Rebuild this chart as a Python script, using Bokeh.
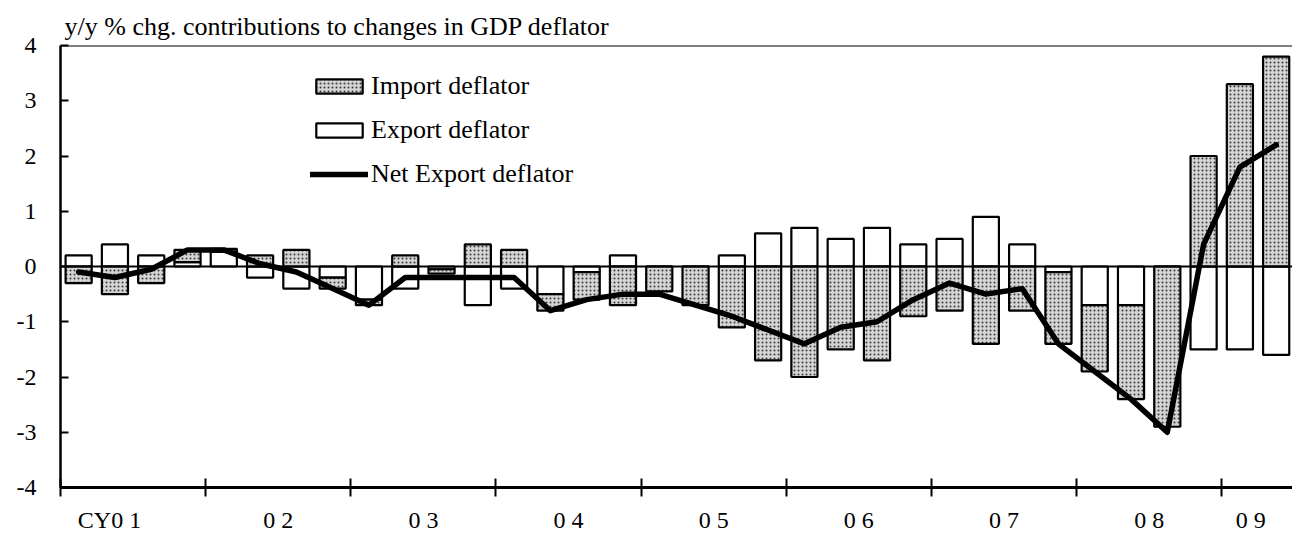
import numpy as np
from bokeh.plotting import figure
from bokeh.models import Range1d, FixedTicker, Span, Legend, LegendItem, ColumnDataSource
from bokeh.embed import file_html
from bokeh.resources import INLINE

# ---- data ----
quarters = ["01Q1", "01Q2", "01Q3", "01Q4", "02Q1", "02Q2", "02Q3", "02Q4",
            "03Q1", "03Q2", "03Q3", "03Q4", "04Q1", "04Q2", "04Q3", "04Q4",
            "05Q1", "05Q2", "05Q3", "05Q4", "06Q1", "06Q2", "06Q3", "06Q4",
            "07Q1", "07Q2", "07Q3", "07Q4", "08Q1", "08Q2", "08Q3", "08Q4",
            "09Q1", "09Q2"]
export_deflator = [0.2, 0.4, 0.2, 0.08, 0.27, -0.2, -0.4, -0.2,
                   -0.6, -0.4, -0.05, -0.7, -0.4, -0.5, -0.1, 0.2,
                   0.0, 0.0, 0.2, 0.6, 0.7, 0.5, 0.7, 0.4,
                   0.5, 0.9, 0.4, -0.1, -0.7, -0.7, 0.0, -1.5,
                   -1.5, -1.6]
import_deflator = [-0.3, -0.5, -0.3, 0.22, 0.05, 0.2, 0.3, -0.2,
                   -0.1, 0.2, -0.08, 0.4, 0.3, -0.3, -0.5, -0.7,
                   -0.45, -0.7, -1.1, -1.7, -2.0, -1.5, -1.7, -0.9,
                   -0.8, -1.4, -0.8, -1.3, -1.2, -1.7, -2.9, 2.0,
                   3.3, 3.8]
net_export_deflator = [-0.1, -0.2, -0.05, 0.3, 0.3, 0.05, -0.1, -0.4,
                       -0.7, -0.2, -0.2, -0.2, -0.2, -0.8, -0.6, -0.5,
                       -0.5, -0.7, -0.9, -1.15, -1.4, -1.1, -1.0, -0.6,
                       -0.3, -0.5, -0.4, -1.4, -1.9, -2.4, -3.0, 0.4,
                       1.8, 2.2]
year_labels = ["CY0 1", "0 2", "0 3", "0 4", "0 5", "0 6", "0 7", "0 8", "0 9"]
y_ticks = [-4, -3, -2, -1, 0, 1, 2, 3, 4]
y_tick_labels = ["-4", "-3", "-2", "-1", "0", "1", "2", "3", "4"]

FONT = "Liberation Serif"

x = np.arange(len(quarters))
exp = np.array(export_deflator)
imp = np.array(import_deflator)
# stacked: export first (next to zero), import stacked on same-sign side
imp_bottom = np.where(np.sign(imp) == np.sign(exp), exp, 0.0)
imp_top = imp_bottom + imp

src = ColumnDataSource(dict(x=x, exp_top=exp, exp_bottom=np.zeros_like(exp),
                            imp_bottom=imp_bottom, imp_top=imp_top,
                            net=np.array(net_export_deflator)))

p = figure(width=1292, height=542, output_backend="svg", toolbar_location=None,
           x_range=Range1d(-0.5, 33.45), y_range=Range1d(-4, 4),
           min_border_left=60, min_border_right=0, min_border_top=45,
           min_border_bottom=55)
p.outline_line_color = None
p.xgrid.visible = False
p.ygrid.visible = False
p.background_fill_color = "white"
p.border_fill_color = "white"

p.title.text = "y/y % chg. contributions to changes in GDP deflator"
p.title.text_font = FONT
p.title.text_font_size = "26px"
p.title.text_font_style = "normal"
p.title.text_color = "black"
p.title.align = "left"
p.title.offset = 4
p.title.standoff = 10

BAR_W = 0.72
r_exp = p.vbar(x="x", bottom="exp_bottom", top="exp_top", width=BAR_W, source=src,
               fill_color="white", line_color="black", line_width=2.2)
r_imp = p.vbar(x="x", bottom="imp_bottom", top="imp_top", width=BAR_W, source=src,
               fill_color="#d4d4d4", hatch_pattern="dot", hatch_color="#3a3a3a",
               hatch_scale=4, hatch_weight=1.3, line_color="black", line_width=2.2)

p.add_layout(Span(location=0, dimension="width", line_color="black", line_width=2))
p.add_layout(Span(location=4, dimension="width", line_color="black", line_width=2))

r_net = p.line(x="x", y="net", source=src, line_color="black", line_width=5.5,
               line_join="round", line_cap="round")

# x axis: minor ticks at year boundaries, labels at year centres
boundaries = [-0.5 + 4 * i for i in range(9)]
label_pos = [0.85, 5.5, 9.5, 13.5, 17.5, 21.5, 25.5, 29.5, 32.3]
xa = p.xaxis[0]
xa.ticker = FixedTicker(ticks=label_pos, minor_ticks=boundaries)
xa.major_label_overrides = {pos: lab for pos, lab in zip(label_pos, year_labels)}
xa.major_tick_in = 0
xa.major_tick_out = 0
xa.minor_tick_in = 9
xa.minor_tick_out = 9
xa.minor_tick_line_width = 2
xa.minor_tick_line_color = "black"
xa.axis_line_width = 3
xa.axis_line_color = "black"
xa.major_label_text_font = FONT
xa.major_label_text_font_size = "24px"
xa.major_label_text_color = "black"
xa.major_label_standoff = 10

ya = p.yaxis[0]
ya.ticker = FixedTicker(ticks=y_ticks)
ya.major_label_overrides = {t: s for t, s in zip(y_ticks, y_tick_labels)}
ya.minor_tick_line_color = None
ya.major_tick_in = 8
ya.major_tick_out = 0
ya.major_tick_line_width = 2
ya.major_tick_line_color = "black"
ya.axis_line_width = 2.5
ya.axis_line_color = "black"
ya.major_label_text_font = FONT
ya.major_label_text_font_size = "24px"
ya.major_label_text_color = "black"
ya.major_label_standoff = 24

legend = Legend(items=[LegendItem(label="Import deflator", renderers=[r_imp]),
                       LegendItem(label="Export deflator", renderers=[r_exp]),
                       LegendItem(label="Net Export deflator", renderers=[r_net])],
                location=(250, 298), orientation="vertical")
legend.label_text_font = FONT
legend.label_text_font_size = "26px"
legend.label_text_color = "black"
legend.glyph_width = 58
legend.glyph_height = 18
legend.label_height = 24
legend.spacing = 14
legend.label_standoff = 3
legend.padding = 0
legend.margin = 0
legend.border_line_color = None
legend.background_fill_alpha = 0
p.add_layout(legend)

open("out.html", "w").write(file_html(p, INLINE))
